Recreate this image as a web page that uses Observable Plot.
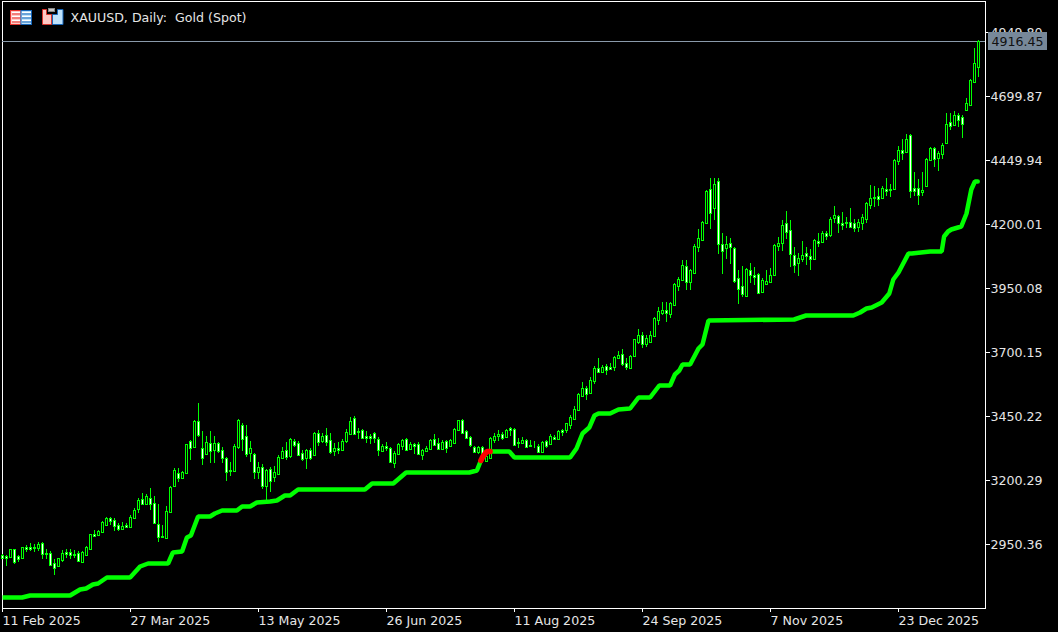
<!DOCTYPE html>
<html>
<head>
<meta charset="utf-8">
<script src="https://cdn.jsdelivr.net/npm/d3@7"></script>
<script src="https://cdn.jsdelivr.net/npm/@observablehq/plot@0.6"></script>
<style>
html,body{margin:0;padding:0;background:#000;width:1058px;height:632px;overflow:hidden;position:relative}
svg text{white-space:pre}
#icons{position:absolute;left:0;top:0}
</style>
</head>
<body>
<div id="chart"></div>
<svg id="icons" width="70" height="30">
  <rect x="10.5" y="10.5" width="10.5" height="14" fill="#ffc9c4" stroke="#e8352e"/>
  <path d="M12 14h8M12 18h8M12 22h8" stroke="#e8352e" stroke-width="1.2"/>
  <path d="M12 12.5h8M12 16.5h8M12 20.5h8" stroke="#fff" stroke-width="1"/>
  <rect x="21" y="10.5" width="10.5" height="14" fill="#bfe2fb" stroke="#1565b8"/>
  <path d="M22 14h9M22 18h9M22 22h9" stroke="#1565b8" stroke-width="1.2"/>
  <path d="M22 12.5h9M22 16.5h9M22 20.5h9" stroke="#fff" stroke-width="1"/>
  <path d="M42.5 24.5V9.5h4v5h5v10z" fill="#ffc9c4" stroke="#d8342c"/>
  <path d="M52.5 24.5v-10h5v-5h5.5v15z" fill="#bfe2fb" stroke="#1565b8"/>
  <rect x="48.5" y="8.5" width="6" height="3" fill="#c8c8c8" stroke="#888"/>
</svg>
<script>
const bodyTop = [
2909,2905,2931,2929,2902,2937,2937,2939,2939,2951,
2955,2916,2916,2877,2894,2916,2918,2918,2913,2916,
2918,2937,2990,2990,3002,3037,3050,3050,3046,3024,
3021,3023,3056,3085,3124,3127,3137,3131,3111,3029,
2981,3079,3174,3241,3226,3233,3341,3351,3429,3429,
3326,3349,3345,3345,3345,3319,3287,3241,3334,3435,
3417,3373,3326,3300,3252,3253,3241,3244,3232,3292,
3315,3318,3361,3354,3345,3306,3318,3318,3384,3384,
3374,3375,3356,3326,3326,3354,3388,3430,3443,3390,
3397,3374,3371,3384,3362,3335,3332,3326,3306,3341,
3358,3362,3339,3341,3341,3317,3327,3357,3361,3345,
3349,3352,3356,3401,3433,3433,3391,3369,3330,3328,
3330,3293,3365,3371,3380,3380,3397,3404,3400,3349,
3356,3356,3336,3335,3332,3349,3352,3374,3367,3391,
3396,3421,3448,3479,3538,3560,3560,3589,3638,3637,
3643,3645,3642,3681,3689,3693,3658,3685,3749,3765,
3768,3753,3765,3834,3862,3865,3865,3890,3964,3987,
4040,4035,4022,4116,4146,4208,4329,4337,4357,4367,
4122,4122,4126,4107,3990,3957,4026,4020,4001,4005,
3983,3978,4000,4118,4126,4197,4204,4176,4078,4068,
4078,4087,4074,4139,4133,4165,4165,4220,4236,4232,
4205,4208,4208,4205,4208,4228,4283,4302,4306,4309,
4341,4337,4337,4448,4488,4488,4533,4546,4341,4341,
4333,4452,4497,4497,4478,4510,4591,4598,4626,4624,
4619,4673,4764,4829,4916.45];
const bodyBottom = [
2896,2896,2899,2879,2890,2895,2931,2929,2933,2935,
2911,2913,2870,2857,2864,2886,2913,2908,2909,2883,
2882,2909,2930,2981,2985,2997,3026,3042,3020,3010,
3010,3016,3017,3053,3088,3108,3108,3108,3033,2978,
2976,2972,3075,3176,3207,3207,3228,3325,3328,3375,
3287,3302,3313,3319,3313,3286,3231,3235,3235,3328,
3360,3302,3305,3231,3233,3176,3176,3196,3211,3223,
3288,3289,3293,3336,3299,3283,3286,3287,3299,3349,
3352,3349,3309,3313,3317,3317,3354,3381,3381,3386,
3365,3365,3365,3365,3319,3315,3325,3271,3267,3300,
3335,3319,3322,3335,3300,3297,3312,3322,3336,3322,
3322,3326,3335,3345,3394,3384,3365,3336,3309,3310,
3293,3274,3287,3358,3371,3365,3369,3394,3338,3343,
3343,3330,3332,3332,3310,3310,3335,3339,3362,3362,
3387,3394,3414,3440,3472,3528,3538,3539,3586,3623,
3623,3629,3633,3641,3676,3653,3641,3636,3684,3741,
3731,3733,3741,3762,3827,3853,3852,3850,3883,3957,
3981,3973,3973,4009,4111,4137,4204,4244,4263,4122,
4094,4107,4109,3977,3947,3926,3918,4000,3992,3931,
3934,3965,3973,4000,4113,4126,4168,4082,4039,4048,
4063,4074,4063,4064,4126,4129,4152,4156,4223,4204,
4198,4202,4190,4184,4188,4202,4221,4276,4301,4298,
4301,4330,4332,4337,4445,4478,4482,4328,4330,4313,
4324,4350,4449,4455,4457,4474,4517,4582,4586,4608,
4591,4644,4663,4756,4812];
const high = [
2913,2909,2931,2931,2909,2938,2948,2955,2952,2959,
2957,2931,2924,2890,2896,2926,2931,2929,2926,2922,
2924,2942,2991,3004,3004,3041,3055,3056,3050,3033,
3037,3033,3062,3089,3131,3150,3144,3170,3137,3105,
3026,3098,3176,3246,3248,3237,3341,3358,3433,3502,
3391,3371,3391,3371,3349,3330,3289,3271,3339,3437,
3424,3417,3352,3306,3270,3261,3244,3252,3254,3296,
3330,3348,3365,3361,3352,3317,3322,3326,3387,3394,
3382,3404,3384,3343,3349,3361,3400,3447,3452,3404,
3400,3391,3380,3388,3367,3339,3348,3328,3313,3345,
3362,3366,3349,3345,3348,3323,3332,3362,3378,3365,
3358,3356,3361,3404,3436,3439,3395,3374,3335,3332,
3335,3313,3367,3384,3395,3388,3401,3408,3404,3365,
3369,3362,3356,3352,3339,3352,3358,3381,3375,3395,
3401,3424,3456,3491,3541,3582,3567,3602,3646,3675,
3651,3655,3658,3686,3706,3710,3675,3688,3752,3791,
3778,3765,3784,3836,3875,3897,3897,3895,3970,3992,
4061,4061,4026,4120,4182,4211,4331,4380,4380,4378,
4163,4155,4146,4111,4022,4035,4029,4048,4033,4007,
3990,4022,4029,4120,4150,4214,4250,4214,4111,4085,
4135,4111,4104,4142,4163,4174,4172,4228,4270,4237,
4246,4228,4261,4220,4221,4240,4287,4354,4350,4339,
4348,4378,4358,4452,4504,4530,4553,4550,4405,4374,
4405,4458,4500,4501,4484,4517,4632,4634,4643,4634,
4624,4693,4767,4888,4920];
const low = [
2892,2864,2896,2874,2879,2892,2918,2922,2918,2924,
2890,2890,2868,2831,2860,2882,2896,2892,2896,2881,
2879,2907,2929,2977,2981,2994,3024,3024,3000,3000,
3007,3011,3015,3050,3072,3103,3105,3085,3029,2959,
2972,2968,3072,3174,3192,3205,3226,3280,3327,3368,
3257,3300,3267,3265,3306,3265,3198,3215,3232,3323,
3314,3289,3271,3206,3206,3167,3124,3153,3193,3220,
3284,3278,3285,3329,3296,3274,3245,3278,3296,3332,
3345,3332,3300,3293,3300,3313,3345,3378,3378,3361,
3361,3345,3339,3345,3293,3313,3313,3267,3248,3297,
3319,3317,3319,3300,3296,3280,3309,3319,3332,3319,
3319,3306,3330,3341,3391,3381,3362,3328,3304,3300,
3283,3271,3283,3343,3352,3358,3365,3374,3336,3326,
3339,3326,3330,3326,3306,3306,3326,3336,3358,3358,
3371,3382,3401,3437,3469,3524,3512,3537,3577,3619,
3619,3612,3628,3624,3673,3645,3628,3632,3681,3733,
3715,3720,3739,3761,3807,3843,3817,3834,3882,3940,
3978,3944,3944,4007,4090,4135,4200,4182,4217,4081,
4003,4065,4042,3968,3886,3914,3914,3970,3960,3925,
3929,3962,3970,3999,4095,4096,4143,4031,4007,3996,
4052,4038,4022,4061,4109,4126,4139,4148,4204,4163,
4176,4185,4185,4168,4168,4176,4202,4257,4267,4270,
4300,4309,4305,4335,4430,4449,4478,4300,4311,4274,
4309,4348,4448,4422,4406,4452,4514,4566,4582,4579,
4534,4643,4660,4754,4773];
const rising = [
0,0,1,0,0,1,0,0,0,1,
0,0,0,0,1,1,0,0,0,0,
1,1,1,0,1,1,1,0,0,0,
1,0,1,1,1,0,1,0,0,0,
0,1,1,1,0,1,1,0,1,0,
0,1,0,1,0,0,0,0,1,1,
0,0,1,0,1,0,1,0,1,1,
1,0,1,0,0,0,1,0,1,0,
1,0,0,1,0,1,1,1,0,0,
0,0,0,0,0,1,0,0,1,1,
1,0,1,0,0,1,1,1,0,0,
1,0,1,1,1,0,0,0,0,1,
0,1,1,1,1,0,1,0,0,0,
1,0,0,0,0,1,0,1,0,1,
0,1,1,1,1,1,0,1,1,0,
1,0,0,1,1,0,0,1,1,1,
0,1,1,1,1,1,0,1,1,1,
1,0,1,1,1,1,1,0,1,0,
0,1,0,0,0,0,1,0,0,0,
1,1,1,1,1,1,0,0,0,1,
1,0,0,1,0,1,0,1,1,0,
0,0,0,0,1,1,1,1,0,0,
1,0,0,1,1,0,1,0,0,0,
1,1,1,0,1,1,1,0,1,0,
0,1,1,1,1];

const trendBar = [
0,4.9,6.9,16.9,19.4,20.9,22.6,23.9,26.1,31.9,34.4,36.4,41.4,42.6,44.9,46.1,47.1,48.9,51.9,53.1,
54.9,58.6,59.9,61.9,63.6,66.9,68.6,70.6,71.9,73.9,90.6,92.4,97.7,100.9,116.7,118.6,119.6,120.1,121.1,121.9,
126.7,128,141.9,143.5,145,146.7,148,149,151.9,154,156.9,159,161.9,164.2,166.9,168.1,169.2,170,171.9,174,
175,176.5,197.9,199.4,200.9,212.7,214.4,215.2,216,217.3,219.8,221.7,222.7,224,226.5,227.3,231.9,234.8,235.4,236.4,
237.2,239.7,241,242.2,243.1,243.8];
const trendPrice = [
2743,2743,2750,2750,2773,2777,2796,2799,2822,2822,2866,2878,2878,2921,2924,2976,2984,3058,3058,3073,
3082,3082,3097,3097,3116,3117,3124,3140,3142,3167,3167,3190,3190,3231,3231,3238,3278,3293,3313,3313,
3313,3289,3289,3326,3385,3408,3456,3461,3461,3478,3480,3524,3524,3573,3573,3616,3628,3655,3655,3716,
3733,3827,3828,3835,3846,3846,3855,3866,3871,3875,3896,3931,3986,4012,4085,4086,4093,4094,4152,4172,
4181,4191,4244,4335,4366,4366];
const redFrom = 119.6, redTo = 121.9;

const priceTicks = [4949.80,4699.87,4449.94,4200.01,3950.08,3700.15,3450.22,3200.29,2950.36];
const dateTicks = [0,32,64,96,128,160,192,224];
const dateLabels = ["11 Feb 2025","27 Mar 2025","13 May 2025","26 Jun 2025","11 Aug 2025","24 Sep 2025","7 Nov 2025","23 Dec 2025"];
const lastPrice = 4916.45;
const chartTitle = "XAUUSD, Daily:  Gold (Spot)";

const candles = rising.map((r,i)=>({i,r,top:bodyTop[i],bottom:bodyBottom[i],high:high[i],low:low[i]}));
const trend = trendBar.map((b,k)=>({b,p:trendPrice[k]}));
const lime = "#00ff00";
const font = "'DejaVu Sans'";
const labelSize = 12.6;

const chart = Plot.plot({
  width:1058, height:632,
  marginLeft:2, marginRight:73, marginTop:1, marginBottom:24,
  style:{background:"#000",color:"#e6e6e6",fontFamily:font,fontSize:"12.6px",display:"block"},
  x:{domain:[0,244],range:[2,978]},
  y:{domain:[2950.36,4949.80],range:[544,32],round:true},
  marks:[
    Plot.frame({stroke:"#fff"}),
    Plot.axisX({ticks:dateTicks,tickFormat:i=>dateLabels[dateTicks.indexOf(i)],textAnchor:"start",tickSize:4,tickPadding:4,stroke:"#fff",fill:"#e6e6e6",label:null,fontSize:labelSize}),
    Plot.axisY({anchor:"right",ticks:priceTicks,tickFormat:d=>d.toFixed(2),tickSize:4,tickPadding:1,stroke:"#fff",fill:"#e6e6e6",label:null,fontSize:labelSize,textAnchor:"start"}),
    Plot.ruleY([lastPrice],{stroke:"#8a9aaa"}),
    Plot.line(trend.filter(d=>d.b<=redFrom),{x:"b",y:"p",stroke:lime,strokeWidth:4.5,strokeLinejoin:"bevel",strokeLinecap:"butt"}),
    Plot.line(trend.filter(d=>d.b>=redTo),{x:"b",y:"p",stroke:lime,strokeWidth:4.5,strokeLinejoin:"bevel"}),
    Plot.ruleX(candles,{x:"i",y1:"low",y2:"high",stroke:lime,strokeWidth:1,shapeRendering:"crispEdges"}),
    Plot.rect(candles,{x1:d=>d.i-.25,x2:d=>d.i+.25,y1:"bottom",y2:"top",dx:.5,dy:.5,fill:d=>d.r?"#000":"#fff",stroke:lime,strokeWidth:1}),
    Plot.line(trend.filter(d=>d.b>=redFrom&&d.b<=redTo),{x:"b",y:"p",stroke:"#ff0000",strokeWidth:5.5,strokeLinejoin:"bevel"}),
    Plot.rect([lastPrice],{x1:246.5,x2:261.25,y1:d=>d-9*3.905,y2:d=>d+8.5*3.905,fill:"#778899"}),
    Plot.text([lastPrice],{x:246.5,y:d=>d,text:d=>d.toFixed(2),fill:"#111",textAnchor:"start",dx:3,dy:0.5,fontSize:labelSize}),
    Plot.text([chartTitle],{frameAnchor:"top-left",dx:68,dy:12,fill:"#e6e6e6",fontSize:labelSize,lineAnchor:"top"})
  ]
});
document.getElementById("chart").append(chart);
</script>
</body>
</html>
